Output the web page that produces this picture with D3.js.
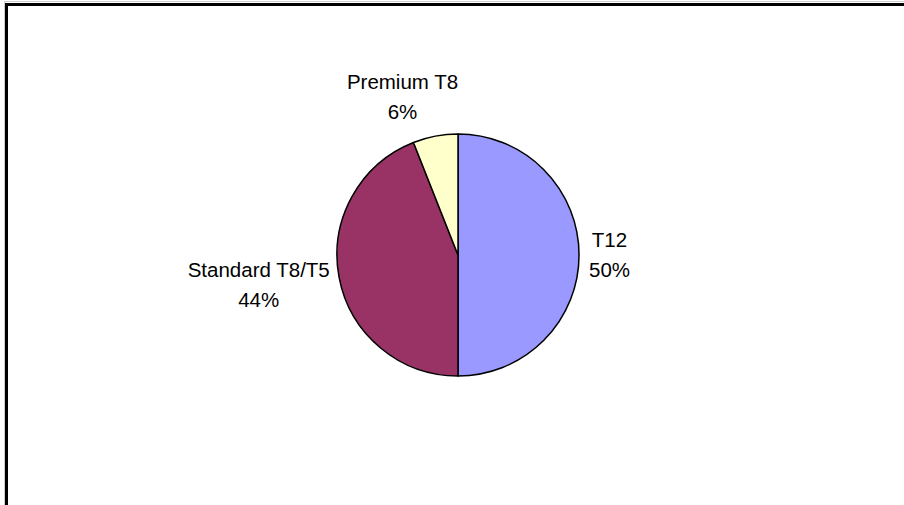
<!DOCTYPE html>
<html>
<head>
<meta charset="utf-8">
<script src="https://cdn.jsdelivr.net/npm/d3@7"></script>
<style>
  body { margin: 0; background: #fff; }
  svg { display: block; }
  .pieLabels { font-family: "Liberation Sans", Arial, sans-serif; font-size: 20.5px; fill: #000; }
</style>
</head>
<body>
<svg id="chart"></svg>
<script>
// chart data
const categories = ["T12", "Standard T8/T5", "Premium T8"]
const values = [50, 44, 6]
const colors = ["#9999FF", "#993366", "#FFFFCC"]

const width = 904
const height = 505
const radius = 121
const cx = 458, cy = 255
const lineGap = 30

const svg = d3.select("#chart")
  .attr("width", width)
  .attr("height", height)

// outer frame (runs off the right and bottom edge)
svg.append("rect")
  .attr("x", 4.5).attr("y", 1.5)
  .attr("width", 1000).attr("height", 1000)
  .attr("fill", "none")
  .attr("stroke", "#ccc")
  .attr("stroke-width", 1)
svg.append("rect")
  .attr("x", 6.5).attr("y", 4.5)
  .attr("width", 1000).attr("height", 1000)
  .attr("fill", "none")
  .attr("stroke", "#000")
  .attr("stroke-width", 3)

const data = categories.map((c, i) => ({cat: c, val: values[i], color: colors[i]}))

const pie = d3.pie()
  .sort(null)
  .value(d => d.val)
const data_ready = pie(data)

const arc = d3.arc()
  .innerRadius(0)
  .outerRadius(radius)

const labelArc = d3.arc()
  .innerRadius(radius + 10)
  .outerRadius(radius + 10)

const g = svg.append("g")
  .attr("transform", "translate(" + cx + "," + cy + ")")

g.selectAll("path")
  .data(data_ready)
  .enter()
  .append("path")
  .attr("d", arc)
  .attr("fill", d => d.data.color)
  .attr("stroke", "#000")
  .attr("stroke-width", 1.5)
  .attr("stroke-linejoin", "round")

const total = d3.sum(values)
const fmt = v => Math.round(v / total * 100) + "%"

// labels sit just outside the slice, box pushed away from the pie
const labels = g.selectAll("g.lab")
  .data(data_ready)
  .enter()
  .append("g")
  .attr("class", "lab")

labels.each(function(d) {
  const lab = d3.select(this)
  const t1 = lab.append("text").attr("class", "pieLabels").attr("text-anchor", "middle").text(d.data.cat)
  const t2 = lab.append("text").attr("class", "pieLabels").attr("text-anchor", "middle").text(fmt(d.data.val))
  const w = Math.max(t1.node().getComputedTextLength(), t2.node().getComputedTextLength())
  const h = lineGap * 2
  const mid = (d.startAngle + d.endAngle) / 2
  const pos = labelArc.centroid(d)
  const s = Math.sin(mid)
  const x = pos[0] + Math.sign(s) * Math.pow(Math.abs(s), 0.35) * w / 2
  const y = pos[1] - Math.cos(mid) * h / 2
  t1.attr("x", x).attr("y", y - lineGap / 2 + 7)
  t2.attr("x", x).attr("y", y + lineGap / 2 + 7)
})
</script>
</body>
</html>
